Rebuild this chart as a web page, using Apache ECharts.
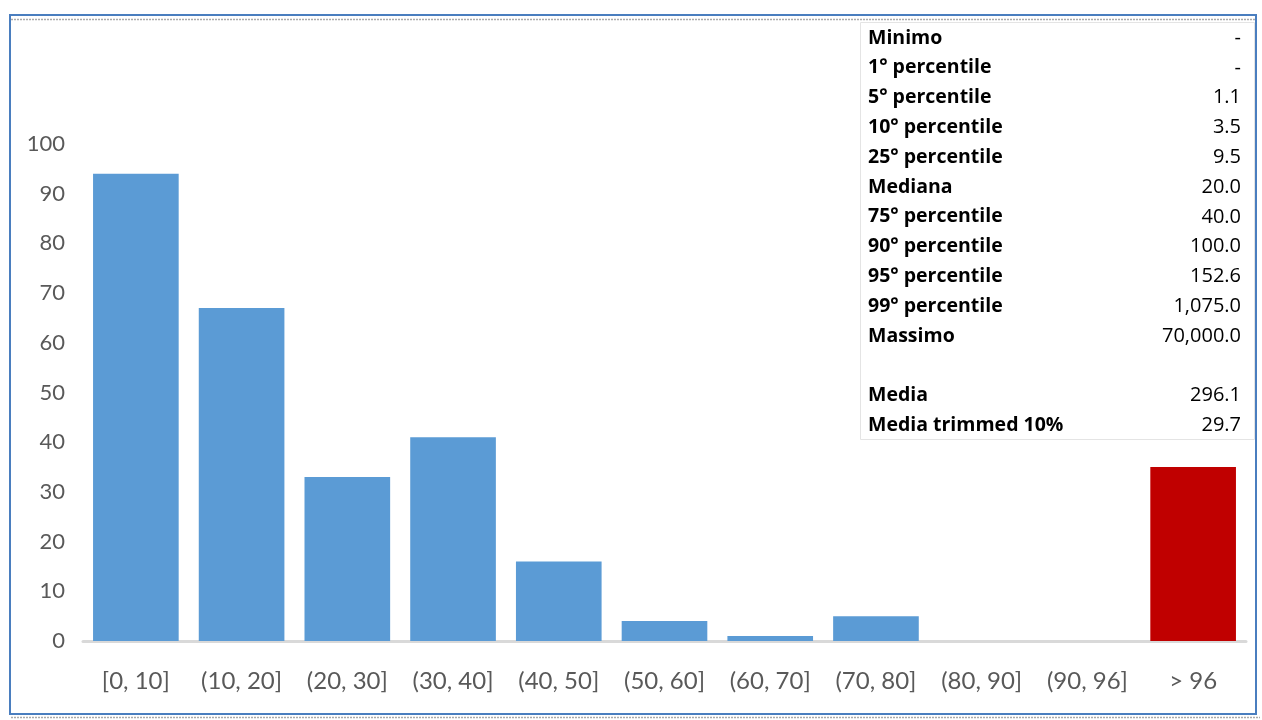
<!DOCTYPE html>
<html><head><meta charset="utf-8">
<script src="https://cdn.jsdelivr.net/npm/echarts@6/dist/echarts.min.js"></script>
<style>html,body{margin:0;padding:0;background:#fff}#c{width:1262px;height:720px}</style>
</head><body><div id="c"></div>
<script>
const categories = ['[0, 10]','(10, 20]','(20, 30]','(30, 40]','(40, 50]','(50, 60]','(60, 70]','(70, 80]','(80, 90]','(90, 96]','> 96'];
const counts = [94, 67, 33, 41, 16, 4, 1, 5, 0, 0, 35];
const yTicks = [0,10,20,30,40,50,60,70,80,90,100];
const statLabels = ['Minimo','1° percentile','5° percentile','10° percentile','25° percentile','Mediana','75° percentile','90° percentile','95° percentile','99° percentile','Massimo','','Media','Media trimmed 10%'];
const statValues = ['-','-','1.1','3.5','9.5','20.0','40.0','100.0','152.6','1,075.0','70,000.0','','296.1','29.7'];

const chart = echarts.init(document.getElementById('c'));
const font = 'Lato, "Open Sans", sans-serif';
const tableFont = '"Open Sans", "Noto Sans", sans-serif';
const graphics = [
  {type:'rect', shape:{x:10,y:15,width:1246,height:699}, style:{fill:null, stroke:'#4a7ebf', lineWidth:2}, z:10},
  {type:'line', shape:{x1:11,y1:19.5,x2:1255,y2:19.5}, style:{stroke:'#aaaaaa', lineWidth:1.5, lineDash:[2,1]}, z:10},
  {type:'line', shape:{x1:11,y1:717.5,x2:1260,y2:717.5}, style:{stroke:'#aaaaaa', lineWidth:1.5, lineDash:[2,1]}, z:10},
  {type:'rect', shape:{x:860.5,y:22.5,width:394,height:417}, style:{fill:'#ffffff', stroke:'#e4e4e4', lineWidth:1}, z:20}
];
statLabels.forEach((l,i)=>{
  const y = 38 + i*29.8;
  if(l) graphics.push({type:'text', x:868, y:y, style:{text:l, font:'bold 19.5px '+tableFont, fill:'#000', verticalAlign:'middle', align:'left'}, z:21});
  if(statValues[i]) graphics.push({type:'text', x:1241, y:y, style:{text:statValues[i], font:'20px '+tableFont, fill:'#000', verticalAlign:'middle', align:'right'}, z:21});
});

chart.setOption({
  animation:false,
  grid:{left:83, right:16, top:144, bottom:79, containLabel:false},
  xAxis:{type:'category', data:categories,
    axisLine:{show:true, lineStyle:{color:'#d9d9d9', width:3}},
    axisTick:{show:false},
    axisLabel:{color:'#595959', fontSize:24, fontFamily:font, margin:28, interval:0}},
  yAxis:{type:'value', min:0, max:100, interval:10,
    axisLine:{show:false}, axisTick:{show:false}, splitLine:{show:false},
    axisLabel:{color:'#595959', fontSize:22, fontFamily:font, margin:18,
      formatter:v=> yTicks.includes(v) ? String(v) : ''}},
  series:[{type:'bar', data:counts.map((v,i)=>({value:v, itemStyle:{color: i===counts.length-1 ? '#c00000' : '#5b9bd5'}})),
    barCategoryGap:'19%'}],
  graphic:graphics
});
</script></body></html>
